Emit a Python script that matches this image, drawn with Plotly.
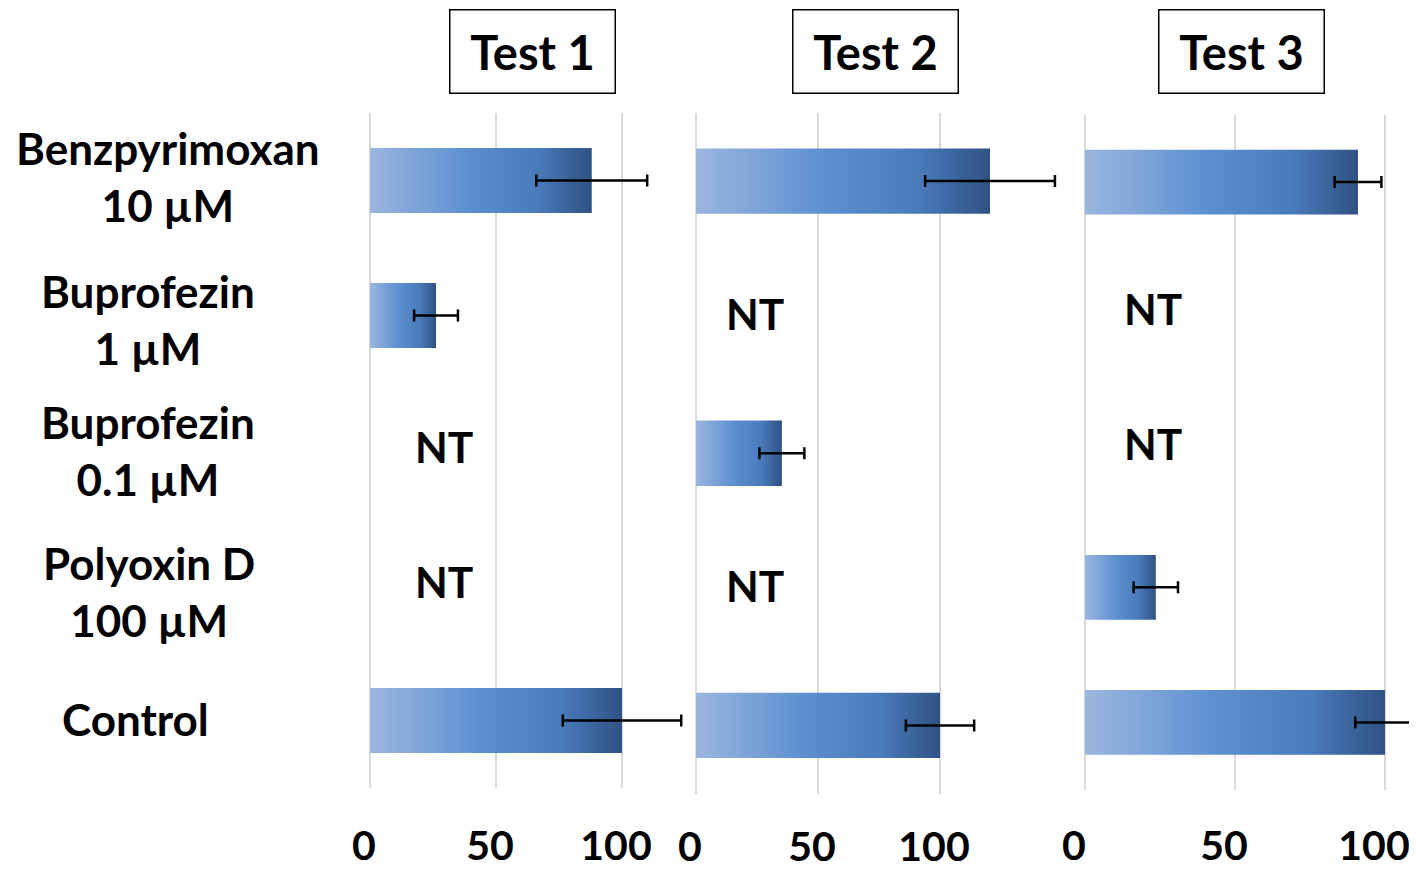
import plotly.graph_objects as go

# ---------------- data ----------------
categories = ["Benzpyrimoxan<br>10 µM", "Buprofezin<br>1 µM", "Buprofezin<br>0.1 µM",
              "Polyoxin D<br>100 µM", "Control"]
test_names = ["Test 1", "Test 2", "Test 3"]
test1_values = [88, 26.2, None, None, 100]
test1_errors = [22.0, 8.7, None, None, 23.5]
test2_values = [120.5, None, 35.2, None, 100]
test2_errors = [26.6, None, 9.2, None, 14.0]
test3_values = [91, None, None, 23.6, 100]
test3_errors = [7.8, None, None, 7.4, 9.9]
x_ticks = [0, 50, 100]

values = [test1_values, test2_values, test3_values]
errors = [test1_errors, test2_errors, test3_errors]

# ---------------- layout constants (pixels of the target picture) ----------------
OFF = 8                       # page body margin
W, H = 1417 - OFF, 871 - OFF
FONT = "Lato"


def px(x):
    return (x - OFF) / W


def py(y):
    return 1 - (y - OFF) / H


# panel x: left px, px per unit, right px
panels_x = [(370, 2.52, 690), (696, 2.44, 1075), (1085, 3.0, 1417)]
# panel y: top px, bottom px
panels_y = [(113, 788), (113, 793.5), (114.5, 790)]
tick_standoff = [30, 25, 28]
tick_shift = [-6, -6, -11]
title_cx = [532, 875, 1241]
label_cx = [168, 148, 148, 149, 135]
label_dy = [-4, 4, 0, 6, -2]
nt_x = [29.4, 24.2, 22.5]
nt_dy = [4, 4, 9]
bar_half = 0.24
grad = [[0, "#9ab6de"], [0.45, "#5b8fd0"], [0.75, "#4a7cbc"], [1, "#2f5284"]]

fig = go.Figure()
n = len(categories)

for p in range(3):
    ax = "" if p == 0 else str(p + 1)
    x0, ppu, x1 = panels_x[p]
    yt, yb = panels_y[p]
    xr = [0, (x1 - x0) / ppu]
    # bars with gradient fill
    for i, v in enumerate(values[p]):
        if v is None:
            continue
        fig.add_trace(go.Scatter(
            x=[0, v, v, 0, 0],
            y=[i - bar_half, i - bar_half, i + bar_half, i + bar_half, i - bar_half],
            mode="lines", fill="toself", line=dict(width=0),
            fillgradient=dict(type="horizontal", colorscale=grad),
            hoverinfo="skip", showlegend=False,
            xaxis="x" + ax, yaxis="y" + ax))
    # error bars
    xs, ys, es = [], [], []
    for i, (v, e) in enumerate(zip(values[p], errors[p])):
        if v is None:
            continue
        xs.append(v); ys.append(i); es.append(e)
    fig.add_trace(go.Scatter(
        x=xs, y=ys, mode="markers", marker=dict(size=1, opacity=0),
        error_x=dict(type="data", array=es, symmetric=True, color="black",
                     thickness=2.5, width=6),
        showlegend=False, xaxis="x" + ax, yaxis="y" + ax))
    # NT labels
    for i, v in enumerate(values[p]):
        if v is None:
            fig.add_annotation(x=nt_x[p], y=i, xref="x" + ax, yref="y" + ax,
                               xanchor="center", yanchor="middle", yshift=nt_dy[p],
                               text="<b>NT</b>", showarrow=False,
                               font=dict(family=FONT, size=42.5, color="black"))
    fig.update_layout(**{
        "xaxis" + ax: dict(domain=[px(x0), px(x1)], range=xr, tickvals=x_ticks,
                           ticktext=["<b>%d</b>" % t for t in x_ticks],
                           showgrid=True, gridcolor="#d9d9d9", gridwidth=2,
                           zeroline=True, zerolinecolor="#d9d9d9", zerolinewidth=2,
                           showline=False, ticks="", ticklabelstandoff=tick_standoff[p],
                           ticklabelshift=tick_shift[p], automargin=False,
                           tickfont=dict(family=FONT, size=41, color="black"),
                           anchor="y" + ax, fixedrange=True),
        "yaxis" + ax: dict(domain=[py(yb), py(yt)], range=[n - 0.5, -0.5],
                           showgrid=False, zeroline=False, showline=False,
                           automargin=False,
                           showticklabels=False, anchor="x" + ax, fixedrange=True),
    })
    # title box
    fig.add_annotation(x=px(title_cx[p]), y=py(51.5), xref="paper", yref="paper",
                       xanchor="center", yanchor="middle",
                       text="<b>%s</b>" % test_names[p], showarrow=False,
                       width=164, height=82, borderpad=0, bordercolor="black",
                       borderwidth=1.5, bgcolor="white",
                       font=dict(family=FONT, size=47, color="black"))

# category labels
for i, c in enumerate(categories):
    fig.add_annotation(x=px(label_cx[i]), y=i, xref="paper", yref="y",
                       xanchor="center", yanchor="middle",
                       text="<b>%s</b>" % c, showarrow=False, align="center",
                       yshift=-label_dy[i],
                       font=dict(family=FONT, size=44, color="black"))

fig.update_layout(width=W, height=H, margin=dict(l=0, r=0, t=0, b=0, pad=0),
                  plot_bgcolor="white", paper_bgcolor="white", showlegend=False)

fig.write_html("out.html")
